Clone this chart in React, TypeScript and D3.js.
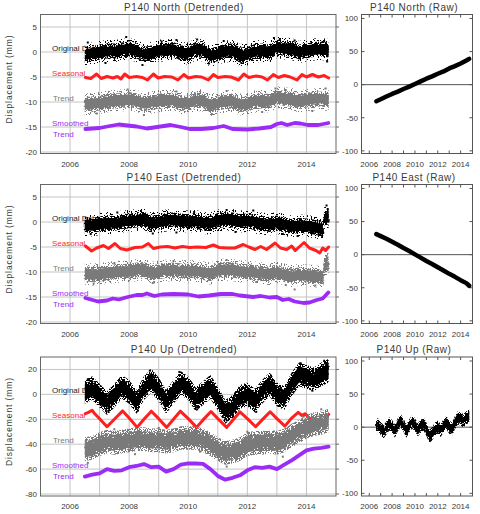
import React from 'react';
import * as d3 from 'd3';

type P = [number, number];

// ---------- DATA ----------
const quarters = [2006.5, 2006.75, 2007, 2007.25, 2007.5, 2007.75, 2008, 2008.25, 2008.5, 2008.75, 2009, 2009.25, 2009.5, 2009.75, 2010, 2010.25, 2010.5, 2010.75, 2011, 2011.25, 2011.5, 2011.75, 2012, 2012.25, 2012.5, 2012.75, 2013, 2013.25, 2013.5, 2013.75, 2014, 2014.25, 2014.5, 2014.75];

const yearGrid = [2006, 2007, 2008, 2009, 2010, 2011, 2012, 2013, 2014];
const yearLabels = [2006, 2008, 2010, 2012, 2014];
const smallTicks = [-20, -15, -10, -5, 0, 5];
const upTicks = [-80, -60, -40, -20, 0, 20];
const rawTicks = [-100, -50, 0, 50, 100];

const seriesNames = ['Original Data', 'Seasonal', 'Trend', 'Smoothed', 'Trend'];
const titles = ['P140 North (Detrended)', 'P140 East (Detrended)', 'P140 Up (Detrended)'];
const rawTitles = ['P140 North (Raw)', 'P140 East (Raw)', 'P140 Up (Raw)'];

// North (detrended) cloud centres, quarterly
const northOriginal = [-0.5, -0.3, 0.0, 0.2, 0.2, 0.4, 0.6, 0.2, -0.5, -0.2, 0.3, 0.3, 0.5, -0.2, -0.3, 0.5, 0.3, -0.8, -0.3, 0.1, 0.2, -0.6, -0.5, 0.1, 0.2, 0.0, 1.0, 0.7, 0.6, 0.0, 0.3, 0.5, 0.6, 0.4];
const northTrend = [-10.5, -10.4, -10.2, -9.9, -9.8, -9.7, -9.5, -9.8, -10.3, -10.1, -9.8, -9.7, -9.6, -10.2, -10.3, -9.6, -9.7, -10.6, -10.2, -9.9, -9.8, -10.5, -10.4, -9.9, -9.8, -9.9, -9.0, -9.3, -9.4, -9.9, -9.6, -9.5, -9.4, -9.6];
const northOrigOutliers: P[] = [[2006.6, 1.9], [2007.2, -2.2], [2007.9, 3.0], [2008.45, -2.6], [2009.1, 2.1], [2009.6, 2.4], [2010.3, 2.5], [2010.7, -2.3], [2011.2, 2.2], [2011.8, -2.2], [2012.9, 2.8], [2013.1, 2.6], [2013.6, 2.3], [2014.6, 2.1], [2014.7, -1.9]];
const northTrendOutliers: P[] = [[2006.9, -12.3], [2007.95, -7.5], [2008.5, -12.6], [2009.6, -7.9], [2010.8, -12.4], [2011.3, -7.8], [2012.5, -12.0], [2012.95, -7.3], [2013.3, -7.6], [2014.65, -7.3], [2014.2, -11.8]];
const northSeasonal: P[] = [[2006.52, -5.1], [2006.7, -5.3], [2006.9, -4.4], [2007.05, -5.3], [2007.25, -4.9], [2007.45, -5.2], [2007.6, -4.9], [2007.72, -5.4], [2007.85, -4.4], [2008.0, -5.1], [2008.25, -4.9], [2008.45, -5.1], [2008.62, -5.6], [2008.82, -4.4], [2008.98, -5.2], [2009.2, -4.9], [2009.45, -5.0], [2009.65, -5.6], [2009.85, -4.5], [2010.0, -5.2], [2010.25, -4.9], [2010.45, -5.0], [2010.68, -5.6], [2010.85, -4.5], [2011.0, -5.1], [2011.25, -4.9], [2011.45, -5.0], [2011.7, -5.6], [2011.88, -4.4], [2012.05, -5.1], [2012.3, -4.8], [2012.5, -5.0], [2012.68, -5.6], [2012.88, -4.5], [2013.05, -5.1], [2013.25, -4.7], [2013.45, -5.0], [2013.68, -5.6], [2013.85, -4.5], [2014.0, -5.0], [2014.2, -4.5], [2014.4, -5.0], [2014.6, -4.7], [2014.75, -5.2]];
const northSmoothed: P[] = [[2006.52, -15.4], [2007.0, -15.2], [2007.35, -14.8], [2007.65, -14.5], [2007.95, -14.7], [2008.25, -14.9], [2008.6, -15.3], [2008.95, -15.0], [2009.4, -14.6], [2009.75, -15.0], [2010.05, -15.4], [2010.45, -15.4], [2010.85, -15.2], [2011.2, -14.8], [2011.5, -15.4], [2012.0, -15.5], [2012.4, -15.3], [2012.8, -15.0], [2013.0, -14.4], [2013.15, -14.2], [2013.35, -14.6], [2013.6, -14.2], [2013.8, -14.3], [2014.05, -14.6], [2014.4, -14.6], [2014.74, -14.2]];

// East (detrended)
const eastOriginal: P[] = [[2006.5, -0.6], [2006.75, -0.7], [2007, -0.4], [2007.25, -0.2], [2007.5, -0.3], [2007.75, 0.1], [2008, 0.2], [2008.25, 0.4], [2008.5, 0.6], [2008.75, -0.3], [2009, 0.0], [2009.25, 0.3], [2009.5, 0.4], [2009.75, 0.2], [2010, 0.1], [2010.25, 0.2], [2010.5, -0.2], [2010.75, -0.3], [2011, 0.3], [2011.25, 0.5], [2011.5, 0.4], [2011.75, 0.1], [2012, 0.2], [2012.25, -0.1], [2012.5, -0.3], [2012.75, -0.5], [2013, -0.2], [2013.25, -0.6], [2013.5, -0.9], [2013.75, -0.7], [2014, -0.8], [2014.25, -1.0], [2014.45, -1.3], [2014.56, -1.6], [2014.6, 0.8], [2014.75, 1.0]];
const eastTrend: P[] = [[2006.5, -10.3], [2006.75, -10.5], [2007, -10.4], [2007.25, -10.2], [2007.5, -10.0], [2007.75, -9.9], [2008, -9.9], [2008.25, -9.6], [2008.5, -9.5], [2008.75, -10.2], [2009, -9.9], [2009.25, -9.7], [2009.5, -9.6], [2009.75, -9.8], [2010, -9.9], [2010.25, -9.8], [2010.5, -10.1], [2010.75, -10.3], [2011, -9.7], [2011.25, -9.5], [2011.5, -9.6], [2011.75, -9.9], [2012, -9.9], [2012.25, -10.1], [2012.5, -10.3], [2012.75, -10.4], [2013, -10.0], [2013.25, -10.5], [2013.5, -10.8], [2013.75, -10.6], [2014, -10.7], [2014.25, -10.8], [2014.45, -11.0], [2014.56, -11.1], [2014.6, -8.6], [2014.75, -8.4]];
const eastOrigOutliers: P[] = [[2006.7, -2.4], [2007.6, 1.9], [2008.4, 2.2], [2008.8, -2.3], [2009.6, -2.1], [2010.2, 2.0], [2011.3, 2.4], [2011.6, -2.0], [2012.2, 2.3], [2013.2, -2.4], [2013.7, -2.8], [2014.4, -2.5], [2014.68, 3.3], [2014.72, 2.6]];
const eastTrendOutliers: P[] = [[2006.8, -12.3], [2007.5, -8.2], [2008.8, -12.2], [2009.5, -7.8], [2011.3, -7.6], [2012.3, -12.0], [2013.3, -12.6], [2013.6, -13.5], [2014.3, -12.7], [2014.68, -6.8]];
const eastSeasonal: P[] = [[2006.52, -4.8], [2006.73, -5.8], [2006.9, -5.2], [2007.13, -4.7], [2007.3, -5.3], [2007.52, -4.3], [2007.7, -5.3], [2007.92, -5.6], [2008.2, -5.1], [2008.45, -5.0], [2008.65, -4.3], [2008.82, -5.3], [2009.05, -5.0], [2009.3, -4.9], [2009.55, -5.2], [2009.8, -4.9], [2010.05, -5.1], [2010.3, -5.0], [2010.6, -5.1], [2010.85, -4.6], [2011.05, -5.1], [2011.3, -5.2], [2011.58, -5.2], [2011.86, -4.5], [2012.05, -5.0], [2012.26, -5.5], [2012.45, -4.9], [2012.65, -5.5], [2012.94, -4.2], [2013.12, -5.2], [2013.33, -5.5], [2013.5, -4.8], [2013.62, -5.7], [2013.92, -4.1], [2014.1, -5.2], [2014.32, -5.7], [2014.45, -6.2], [2014.55, -5.2], [2014.65, -5.7], [2014.75, -5.0]];
const eastSmoothed: P[] = [[2006.52, -15.2], [2006.7, -15.5], [2006.95, -15.9], [2007.25, -15.7], [2007.45, -15.3], [2007.65, -15.5], [2007.95, -15.0], [2008.25, -14.6], [2008.45, -14.6], [2008.6, -14.3], [2008.85, -14.8], [2009.1, -14.5], [2009.5, -14.4], [2010.0, -14.5], [2010.35, -14.9], [2010.7, -14.7], [2011.1, -14.4], [2011.5, -14.4], [2011.75, -14.7], [2012.2, -15.0], [2012.45, -14.8], [2012.75, -15.1], [2013.0, -15.0], [2013.2, -15.6], [2013.4, -15.4], [2013.6, -15.9], [2013.9, -16.2], [2014.1, -16.1], [2014.35, -15.6], [2014.55, -15.3], [2014.74, -14.1]];

// Up (detrended)
const upOriginal = [2, 5, -1, -7, -1, 6, 2, -6, 5, 11, 4, -6, 2, 9, 5, -4, 1, 6, -3, -14, -10, -2, 0, -5, 2, 8, 0, -3, 8, 16, 14, 12, 16, 19];
const upTrend = [-44, -43, -40, -38, -39, -38, -37, -36, -36, -37, -37, -38, -37, -35, -35, -35, -37, -40, -44, -47, -46, -44, -40, -39, -39, -38, -39, -37, -33, -30, -26, -24, -23, -21];
const upOrigOutliers: P[] = [[2006.6, 12], [2007.3, -14], [2008.3, -13], [2008.7, 19], [2009.7, 18], [2010.3, -12], [2011.3, -21], [2012.3, -14], [2012.8, 15], [2013.8, 25], [2014.2, 3], [2014.6, 27]];
const upTrendOutliers: P[] = [[2006.6, -55], [2007.5, -28], [2008.2, -48], [2009.0, -27], [2010.4, -46], [2011.3, -58], [2012.0, -30], [2013.2, -50], [2013.9, -18], [2014.5, -12]];
const upSeasonal: P[] = [[2006.52, -15.5], [2006.62, -14.5], [2006.75, -12.8], [2006.85, -16], [2007.0, -19.5], [2007.25, -26], [2007.5, -20], [2007.78, -13.3], [2008.0, -19], [2008.27, -26.5], [2008.5, -20], [2008.75, -13.5], [2009.0, -19.5], [2009.27, -26.5], [2009.5, -20], [2009.73, -13.5], [2010.0, -19.5], [2010.28, -26.5], [2010.5, -20.5], [2010.77, -13.8], [2011.0, -19.5], [2011.3, -26.5], [2011.5, -21], [2011.75, -14], [2012.0, -19.5], [2012.28, -26], [2012.5, -20.5], [2012.77, -14], [2013.0, -19.5], [2013.27, -25.5], [2013.5, -19], [2013.72, -14.5], [2013.85, -17], [2013.95, -15.5], [2014.1, -19], [2014.3, -25.5], [2014.45, -22.5], [2014.55, -23.5], [2014.75, -16]];
const upSmoothed: P[] = [[2006.5, -66], [2006.75, -64.5], [2007.0, -63.5], [2007.25, -60], [2007.5, -61.5], [2007.75, -61], [2008.0, -58.5], [2008.25, -57.5], [2008.5, -56], [2008.75, -58.5], [2009.0, -58], [2009.25, -62], [2009.5, -60], [2009.75, -56.5], [2010.0, -55.5], [2010.25, -55.5], [2010.5, -55.8], [2010.75, -60], [2011.0, -65.5], [2011.25, -68.5], [2011.5, -67], [2011.75, -65], [2012.0, -61], [2012.25, -58.5], [2012.5, -59], [2012.75, -58], [2013.0, -60], [2013.25, -56.5], [2013.5, -53], [2013.75, -49], [2014.0, -45], [2014.25, -43.5], [2014.5, -43], [2014.75, -42]];

// Raw series
const northRaw: P[] = [[2006.62, -25], [2007, -22], [2007.5, -18], [2008, -14], [2008.5, -10.5], [2009, -6.5], [2009.5, -3], [2010, 1], [2010.5, 5], [2011, 9], [2011.5, 12.5], [2012, 16.5], [2012.5, 20], [2013, 24.5], [2013.5, 28], [2014, 32], [2014.5, 36.5], [2014.75, 39]];
const eastRaw: P[] = [[2006.62, 31], [2007, 28], [2007.5, 24], [2008, 19.5], [2008.5, 15], [2009, 10], [2009.5, 5.5], [2010, 0.5], [2010.5, -4.5], [2011, -9.5], [2011.5, -14], [2012, -19], [2012.5, -24], [2013, -29], [2013.5, -33.5], [2014, -38.5], [2014.5, -43], [2014.75, -47]];
const upRaw: P[] = [[2006.6, 1], [2006.75, 4], [2007, -2], [2007.25, -7], [2007.5, -1], [2007.75, 5], [2008, 1], [2008.25, -6], [2008.5, 4], [2008.75, 10], [2009, 3], [2009.25, -6], [2009.5, 2], [2009.75, 8], [2010, 4], [2010.25, -4], [2010.5, 1], [2010.75, 5], [2011, -3], [2011.25, -14], [2011.5, -10], [2011.75, -3], [2012, 0], [2012.25, -5], [2012.5, 2], [2012.75, 7], [2013, 0], [2013.25, -3], [2013.5, 7], [2013.75, 14], [2014, 12], [2014.25, 10], [2014.5, 14], [2014.75, 17]];

// ---------- STYLE / LAYOUT ----------
const FONT = "'Liberation Sans', Arial, sans-serif";
const RED = '#ff1f1f';
const PURPLE = '#9a2cf5';
const GRAY = '#7a7a7a';
const INK = '#222';
const TXT = '#3a3a3a';
const LEFT = { x0: 40.5, x1: 336 };
const RIGHT = { x0: 361.5, x1: 472.5 };
const TOPS = [14.5, 184.5, 357];
const PH = 139;

const zip = (t: number[], v: number[]): P[] => t.map((d, i) => [d, v[i]] as P);

type Sc = d3.ScaleLinear<number, number>;

function Speckle({ id, seed, freq, table }: { id: string; seed: number; freq: number; table: string }) {
  return (
    <filter id={id} x="-2%" y="-30%" width="104%" height="160%">
      <feTurbulence type="fractalNoise" baseFrequency={freq} numOctaves={1} seed={seed} result="n" />
      <feColorMatrix in="n" type="matrix" values="0 0 0 0 0  0 0 0 0 0  0 0 0 0 0  1 0 0 0 0" result="a" />
      <feComponentTransfer in="a" result="m">
        <feFuncA type="discrete" tableValues={table} />
      </feComponentTransfer>
      <feComposite in="SourceGraphic" in2="m" operator="in" />
    </filter>
  );
}

function Defs() {
  return (
    <defs>
      <Speckle id="spLow" seed={4} freq={0.7} table="0 0 0 0 0 0 1 1 1 1" />
      <Speckle id="spMid" seed={9} freq={0.7} table="0 0 0 0 0 1 1 1 1 1" />
      <Speckle id="spHigh" seed={13} freq={0.7} table="0 0 0 0 1 1 1 1 1 1" />
      <filter id="rough" x="-2%" y="-30%" width="104%" height="160%">
        <feTurbulence type="fractalNoise" baseFrequency="0.35" numOctaves={2} seed={2} result="t" />
        <feDisplacementMap in="SourceGraphic" in2="t" scale={3.5} xChannelSelector="R" yChannelSelector="G" />
      </filter>
    </defs>
  );
}

function Cloud({ data, core, mid, halo, color, x, y, outliers, sparse }: { data: P[]; core: number; mid: number; halo: number; color: string; x: Sc; y: Sc; outliers: P[]; sparse?: boolean }) {
  const area = (w: number) => d3.area<P>().x(d => x(d[0])).y0(d => y(d[1] - w)).y1(d => y(d[1] + w))(data) || '';
  return (
    <g>
      <path d={area(halo)} fill={color} filter={sparse ? 'url(#spLow)' : 'url(#spMid)'} />
      <path d={area(mid)} fill={color} filter={sparse ? 'url(#spMid)' : 'url(#spHigh)'} />
      <path d={area(core)} fill={color} filter="url(#rough)" />
      {outliers.map((d, i) => (
        <rect key={i} x={x(d[0]) - 1} y={y(d[1]) - 1} width={2} height={2} fill={color} />
      ))}
    </g>
  );
}

function Line({ data, color, width, x, y }: { data: P[]; color: string; width: number; x: Sc; y: Sc }) {
  const d = d3.line<P>().x(p => x(p[0])).y(p => y(p[1]))(data) || '';
  return <path d={d} fill="none" stroke={color} strokeWidth={width} strokeLinejoin="round" strokeLinecap="round" />;
}

function DetPanel({ idx, yDomain, ticks, orig, trend, origOut, trendOut, seasonal, smoothed, offsets, w, sparse }: any) {
  const top = TOPS[idx];
  const x = d3.scaleLinear().domain([2005, 2015]).range([LEFT.x0, LEFT.x1]);
  const y = d3.scaleLinear().domain(yDomain).range([top + PH, top]);
  const lx = 52;
  return (
    <g>
      <text x={184} y={top - 4} textAnchor="middle" fontSize={10} letterSpacing={0.6} fill={TXT} fontFamily={FONT}>{titles[idx]}</text>
      {ticks.map((t: number) => (
        <line key={'h' + t} x1={LEFT.x0} x2={LEFT.x1} y1={y(t)} y2={y(t)} stroke="#c4c4c4" strokeWidth={1} />
      ))}
      {yearGrid.map(t => (
        <line key={'v' + t} x1={x(t)} x2={x(t)} y1={top} y2={top + PH} stroke="#c4c4c4" strokeWidth={1} />
      ))}
      <rect x={LEFT.x0} y={top} width={LEFT.x1 - LEFT.x0} height={PH} fill="none" stroke="#666" strokeWidth={1} />
      {ticks.map((t: number) => (
        <g key={'t' + t}>
          <line x1={LEFT.x1} x2={LEFT.x1 + 3} y1={y(t)} y2={y(t)} stroke="#666" />
          <text x={37} y={y(t)} dy="0.35em" textAnchor="end" fontSize={8} fill={TXT} fontFamily={FONT}>{t}</text>
        </g>
      ))}
      {yearLabels.map(t => (
        <text key={'x' + t} x={x(t)} y={top + PH + 13} textAnchor="middle" fontSize={8} fill={TXT} fontFamily={FONT}>{t}</text>
      ))}
      <text transform={`translate(12,${top + PH / 2 - 5}) rotate(-90)`} textAnchor="middle" fontSize={8.5} fill={TXT} fontFamily={FONT} letterSpacing={0.9}>Displacement (mm)</text>

      <text x={lx} y={y(offsets[0]) - 4} dy="0.35em" fontSize={8} fill={INK} fontFamily={FONT}>{seriesNames[0]}</text>
      <text x={lx} y={y(offsets[1]) - 4} dy="0.35em" fontSize={8} fill={RED} fontFamily={FONT}>{seriesNames[1]}</text>
      <text x={lx + 1} y={y(offsets[2]) - 4} dy="0.35em" fontSize={8} fill={GRAY} fontFamily={FONT}>{seriesNames[2]}</text>
      <text x={lx} y={y(offsets[3]) - 4} dy="0.35em" fontSize={8} fill={PURPLE} fontFamily={FONT}>{seriesNames[3]}</text>
      <text x={lx + 1} y={y(offsets[3]) + 7.5} dy="0.35em" fontSize={8} fill={PURPLE} fontFamily={FONT}>{seriesNames[4]}</text>

      <Cloud data={orig} core={w[0]} mid={w[1]} halo={w[2]} color="#000" x={x} y={y} outliers={origOut} sparse={sparse} />
      <Line data={seasonal} color={RED} width={3} x={x} y={y} />
      <Cloud data={trend} core={w[0]} mid={w[1]} halo={w[2]} color={GRAY} x={x} y={y} outliers={trendOut} sparse={sparse} />
      <Line data={smoothed} color={PURPLE} width={3.8} x={x} y={y} />
    </g>
  );
}

function RawPanel({ idx, line, cloud }: { idx: number; line?: P[]; cloud?: P[] }) {
  const top = TOPS[idx];
  const x = d3.scaleLinear().domain([2005.32, 2015.04]).range([RIGHT.x0, RIGHT.x1]);
  const y = d3.scaleLinear().domain([-104, 106]).range([top + PH, top]);
  return (
    <g>
      <text x={414} y={top - 4} textAnchor="middle" fontSize={10} letterSpacing={0.5} fill={TXT} fontFamily={FONT}>{rawTitles[idx]}</text>
      <line x1={RIGHT.x0} x2={RIGHT.x1} y1={y(0)} y2={y(0)} stroke="#555" strokeWidth={1} />
      <rect x={RIGHT.x0} y={top} width={RIGHT.x1 - RIGHT.x0} height={PH} fill="none" stroke="#555" strokeWidth={1} />
      {yearGrid.map(t => (
        <g key={'v' + t}>
          <line x1={x(t)} x2={x(t)} y1={top} y2={top + 3} stroke="#555" />
          <line x1={x(t)} x2={x(t)} y1={top + PH} y2={top + PH - 3} stroke="#555" />
        </g>
      ))}
      {rawTicks.map(t => (
        <g key={'r' + t}>
          <line x1={RIGHT.x0} x2={RIGHT.x0 + 3} y1={y(t)} y2={y(t)} stroke="#555" />
          <line x1={RIGHT.x1} x2={RIGHT.x1 - 3} y1={y(t)} y2={y(t)} stroke="#555" />
          <text x={358} y={y(t)} dy="0.35em" textAnchor="end" fontSize={8} fill={TXT} fontFamily={FONT}>{t}</text>
        </g>
      ))}
      {yearLabels.map(t => (
        <text key={'x' + t} x={x(t)} y={top + PH + 13} textAnchor="middle" fontSize={8} fill={TXT} fontFamily={FONT}>{t}</text>
      ))}
      {line && <Line data={line} color="#000" width={4.5} x={x} y={y} />}
      {cloud && <Cloud data={cloud} core={4.5} mid={7} halo={10} color="#000" x={x} y={y} outliers={[]} />}
    </g>
  );
}

export default function App() {
  return (
    <svg width={480} height={514} style={{ display: 'block', position: 'absolute', left: 0, top: 0, background: '#fff' }}>
      <Defs />
      <rect width={480} height={514} fill="#fff" />
      <DetPanel idx={0} yDomain={[-20.3, 7.5]} ticks={smallTicks} orig={zip(quarters, northOriginal)} trend={zip(quarters, northTrend)}
        origOut={northOrigOutliers} trendOut={northTrendOutliers} seasonal={northSeasonal} smoothed={northSmoothed}
        offsets={[0, -5, -10, -15]} w={[1.05, 1.5, 2.2]} sparse />
      <DetPanel idx={1} yDomain={[-20.3, 7.5]} ticks={smallTicks} orig={eastOriginal} trend={eastTrend}
        origOut={eastOrigOutliers} trendOut={eastTrendOutliers} seasonal={eastSeasonal} smoothed={eastSmoothed}
        offsets={[0, -5, -10, -15]} w={[1.05, 1.5, 2.2]} sparse />
      <DetPanel idx={2} yDomain={[-81.6, 30]} ticks={upTicks} orig={zip(quarters, upOriginal)} trend={zip(quarters, upTrend)}
        origOut={upOrigOutliers} trendOut={upTrendOutliers} seasonal={upSeasonal} smoothed={upSmoothed}
        offsets={[0, -20, -40, -60]} w={[4, 6.5, 9.5]} />
      <RawPanel idx={0} line={northRaw} />
      <RawPanel idx={1} line={eastRaw} />
      <RawPanel idx={2} cloud={upRaw} />
    </svg>
  );
}
